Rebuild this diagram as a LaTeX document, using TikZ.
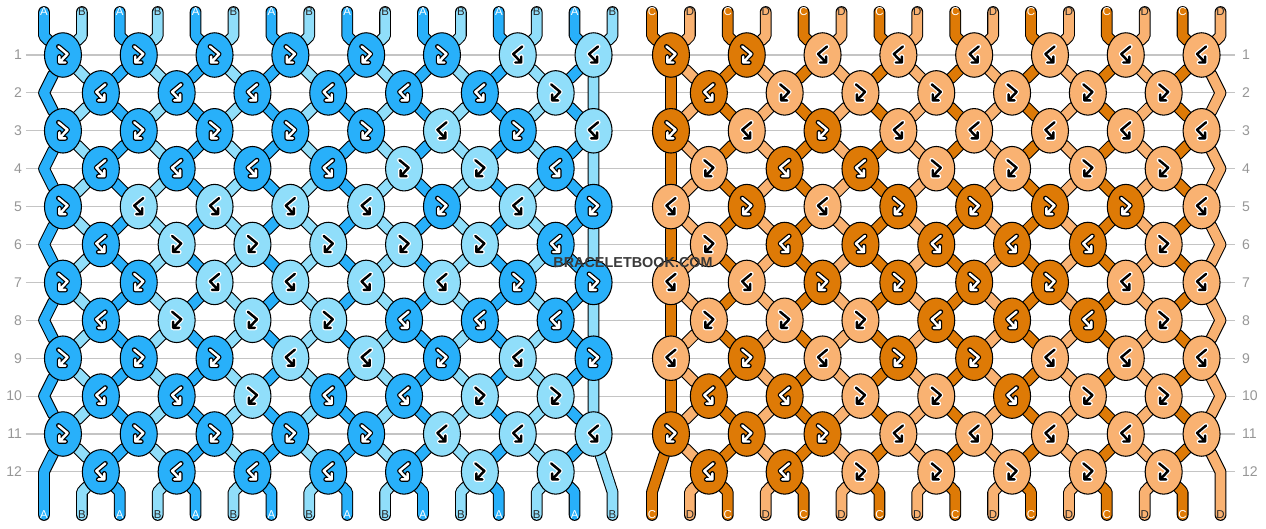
\documentclass[tikz,border=0pt]{standalone}
\usepackage{fontspec}
\setmainfont{Liberation Sans}
\usetikzlibrary{shapes.geometric}

\definecolor{blueDark}{RGB}{40,176,250}
\definecolor{blueLight}{RGB}{144,222,250}
\definecolor{orangeDark}{RGB}{222,122,6}
\definecolor{orangeLight}{RGB}{249,178,114}
\definecolor{gridGray}{RGB}{196,196,196}
\definecolor{numGray}{RGB}{150,150,150}
\definecolor{markGray}{RGB}{58,58,58}
\definecolor{textDark}{RGB}{40,40,40}

\pgfdeclarelayer{grid}
\pgfdeclarelayer{threads}
\pgfsetlayers{grid,threads,main}

\tikzset{
  knot/.style={ellipse, draw=black, line width=0.6pt, fill=#1, minimum width=0.74cm, minimum height=0.89cm, inner sep=0pt},
  thread/.style={draw=black, line width=0.6pt, double=#1, double distance=5.5pt, line cap=round, line join=round},
  rowline/.style={draw=gridGray, line width=0.6pt, shorten <=1pt, shorten >=3pt},
  rownum/.style={text=numGray, font=\fontsize{8}{9}\selectfont, inner sep=1pt},
  endlabel/.style={font=\fontsize{6.5}{7}\selectfont, inner sep=0pt},
  pics/fbmark/.style 2 args={code={
    \draw[#2, line width=2.8pt, line cap=round, line join=round] (-4.5,-8.5) -- (4.5,-1) -- (-3.5,7.5) (-3.5,1.5) -- (-3.5,7.5) -- (2.5,7.5);
    \draw[#1, line width=1.4pt, line cap=round, line join=round] (-4.5,-8.5) -- (4.5,-1) -- (-3.5,7.5) (-3.5,1.5) -- (-3.5,7.5) -- (2.5,7.5);
  }},
  pics/bfmark/.style 2 args={code={
    \draw[#2, line width=2.8pt, line cap=round, line join=round] (4.5,-8.5) -- (-4.5,-1) -- (3.5,7.5) (3.5,1.5) -- (3.5,7.5) -- (-2.5,7.5);
    \draw[#1, line width=1.4pt, line cap=round, line join=round] (4.5,-8.5) -- (-4.5,-1) -- (3.5,7.5) (3.5,1.5) -- (3.5,7.5) -- (-2.5,7.5);
  }}
}

% #1 name, #2 x offset, #3 dark, #4 light, #5 odd letter, #6 even letter, #7 knot rows
\newcommand\braceletpanel[7]{%
  % knots
  \foreach \r/\row in {#7} {
    \foreach \c [count=\k] in \row {
      \pgfmathsetmacro\kx{#2+44+37.9*(2*\k-1.5)+37.9*(1-mod(\r,2))}
      \pgfmathsetmacro\ky{55+37.9*(\r-1)}
      \pgfmathtruncatemacro\fb{mod(\r+\c,2)}
      \ifnum\c=1 \def\kfill{#3}\def\kfg{white}\def\kbg{black}%
      \else \def\kfill{#4}\def\kfg{black}\def\kbg{white}\fi
      \node[knot=\kfill] (#1-\r-\k) at (\kx,\ky) {};
      \ifnum\fb=0 \pic at (\kx,\ky) {fbmark={\kfg}{\kbg}};%
      \else \pic at (\kx,\ky) {bfmark={\kfg}{\kbg}};\fi
    }
  }
  % thread ends
  \foreach \p in {1,...,16} {
    \pgfmathsetmacro\sx{#2+44+37.9*(\p-1)}
    \coordinate (#1-top-\p) at (\sx,12);
    \coordinate (#1-tb-\p) at (\sx,36);
    \coordinate (#1-bb-\p) at (\sx,492);
    \coordinate (#1-bot-\p) at (\sx,515);
  }
  % inner threads
  \begin{pgfonlayer}{threads}
  \foreach \p in {2,...,15} {
    \pgfmathtruncatemacro\ka{(\p+1)/2}
    \pgfmathtruncatemacro\kb{\p/2}
    \ifodd\p\relax \def\tc{#3}\else \def\tc{#4}\fi
    \draw[thread=\tc] (#1-top-\p) -- (#1-tb-\p) -- (#1-1-\ka) -- (#1-2-\kb) -- (#1-3-\ka) -- (#1-4-\kb)
      -- (#1-5-\ka) -- (#1-6-\kb) -- (#1-7-\ka) -- (#1-8-\kb) -- (#1-9-\ka) -- (#1-10-\kb)
      -- (#1-11-\ka) -- (#1-12-\kb) -- (#1-bb-\p) -- (#1-bot-\p);
  }
  \end{pgfonlayer}
  % letters
  \foreach \p in {1,...,16} {
    \ifodd\p\relax \def\lc{white}\def\lt{#5}\else \def\lc{textDark}\def\lt{#6}\fi
    \node[endlabel, text=\lc] (#1-lt-\p) at (#1-top-\p) {\lt};
    \node[endlabel, text=\lc] (#1-lb-\p) at (#1-bot-\p) {\lt};
  }
}

\begin{document}
\begin{tikzpicture}[x=0.02cm, y=-0.02cm]
  \useasboundingbox (0,0) rectangle (1266,528);

  % row numbers and grid lines
  \foreach \r in {1,...,12} {
    \pgfmathsetmacro\ry{55+37.9*(\r-1)}
    \node[rownum, anchor=east] (rl-\r) at (24,\ry) {\r};
    \node[rownum, anchor=west] (rr-\r) at (1240,\ry) {\r};
    \begin{pgfonlayer}{grid}
      \draw[rowline] (rl-\r) -- (rr-\r);
    \end{pgfonlayer}
  }

  \braceletpanel{L}{0}{blueDark}{blueLight}{A}{B}{%
    1/{1,1,1,1,1,1,0,0}, 2/{1,1,1,1,1,1,0}, 3/{1,1,1,1,1,0,1,0}, 4/{1,1,1,1,0,0,1},
    5/{1,0,0,0,0,1,0,1}, 6/{1,0,0,0,0,0,1}, 7/{1,1,0,0,0,0,1,1}, 8/{1,0,0,0,1,1,1},
    9/{1,1,1,0,0,1,0,1}, 10/{1,1,0,1,1,0,0}, 11/{1,1,1,1,1,0,0,0}, 12/{1,1,1,1,1,0,0}}

  \braceletpanel{R}{608}{orangeDark}{orangeLight}{C}{D}{%
    1/{1,1,0,0,0,0,0,0}, 2/{1,0,0,0,0,0,0}, 3/{1,0,1,0,0,0,0,0}, 4/{0,1,1,0,0,0,0},
    5/{0,1,0,1,1,1,1,0}, 6/{0,1,1,1,1,1,0}, 7/{0,0,1,1,1,1,0,0}, 8/{0,0,0,1,1,1,0},
    9/{0,1,0,1,1,0,0,0}, 10/{1,1,0,0,1,0,0}, 11/{1,1,1,0,0,0,0,0}, 12/{1,1,0,0,0,0,0}}

  % edge threads
  \begin{pgfonlayer}{threads}
    \foreach \r in {2,4,...,12} {
      \pgfmathsetmacro\zy{55+37.9*(\r-1)}
      \coordinate (L-z-\r) at (44,\zy);
      \coordinate (R-z-\r) at (1220.5,\zy);
    }
    \draw[thread=blueDark] (L-top-1) -- (L-tb-1) -- (L-1-1) -- (L-z-2) -- (L-3-1) -- (L-z-4) -- (L-5-1)
      -- (L-z-6) -- (L-7-1) -- (L-z-8) -- (L-9-1) -- (L-z-10) -- (L-11-1) -- (L-z-12) -- (L-bot-1);
    \draw[thread=blueLight] (L-top-16) -- (L-tb-16) -- (L-1-8) -- (L-3-8) -- (L-5-8) -- (L-7-8)
      -- (L-9-8) -- (L-11-8) -- (L-bb-16) -- (L-bot-16);
    \draw[thread=orangeDark] (R-top-1) -- (R-tb-1) -- (R-1-1) -- (R-3-1) -- (R-5-1) -- (R-7-1)
      -- (R-9-1) -- (R-11-1) -- (R-bb-1) -- (R-bot-1);
    \draw[thread=orangeLight] (R-top-16) -- (R-tb-16) -- (R-1-8) -- (R-z-2) -- (R-3-8) -- (R-z-4) -- (R-5-8)
      -- (R-z-6) -- (R-7-8) -- (R-z-8) -- (R-9-8) -- (R-z-10) -- (R-11-8) -- (R-z-12) -- (R-bot-16);
  \end{pgfonlayer}

  \node[font=\bfseries\fontsize{8.2}{9}\selectfont, text=markGray, inner sep=0pt] (mark) at (633,263) {BRACELETBOOK.COM};
\end{tikzpicture}
\end{document}
